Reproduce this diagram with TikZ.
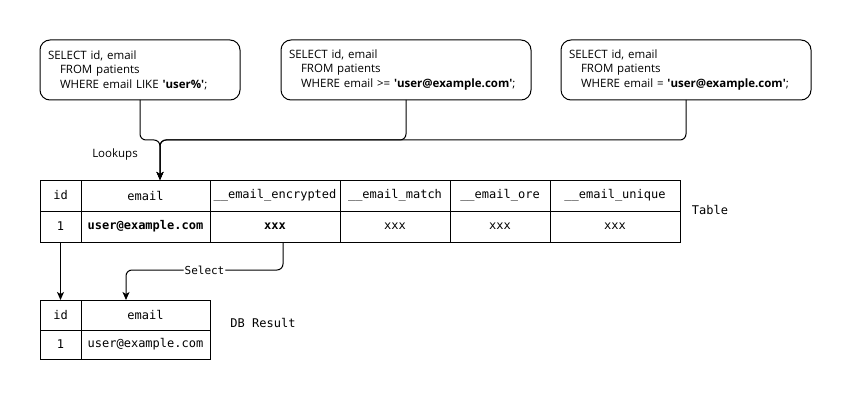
\documentclass[tikz,border=0pt]{standalone}
\usepackage{fontspec}
\setmainfont{Open Sans}
\newfontfamily\monofam{DejaVu Sans Mono}
\usetikzlibrary{arrows.meta,calc,positioning}
\newcommand\sq{\textquotesingle}

\begin{document}
\begin{tikzpicture}[x=1pt,y=-1pt,line width=1pt,
        >={Stealth[width=7pt,length=8pt,inset=2pt]},
        query/.style={draw,rounded corners=10pt,anchor=north west,outer sep=0pt,
          minimum height=60pt,inner xsep=8pt,align=left,font=\fontsize{11.5}{14.5}\selectfont},
        cell/.style={draw,anchor=north west,outer sep=0pt,inner sep=0pt,
          minimum height=31pt,font=\monofam\fontsize{12}{14}\selectfont},
        lbl/.style={font=\monofam\fontsize{12}{14}\selectfont}]
       \useasboundingbox(0,0)rectangle(851,401);
       % queries
       \node[query,text width=184pt](q1)at(40,40){SELECT id, email\\\hspace*{12pt}FROM patients\\
         \hspace*{12pt}WHERE email LIKE \textbf{\sq user\%\sq};};
       \node[query,text width=234pt](q2)at(281,40){SELECT id, email\\\hspace*{12pt}FROM patients\\
         \hspace*{12pt}WHERE email >= \textbf{\sq user@example.com\sq};};
       \node[query,text width=234pt](q3)at(561,40){SELECT id, email\\\hspace*{12pt}FROM patients\\
         \hspace*{12pt}WHERE email = \textbf{\sq user@example.com\sq};};
       % table
       \node[cell,minimum width=41pt](h1)at(40,180){id};
       \node[cell,minimum width=129pt](h2)at(h1.north east){email};
       \node[cell,minimum width=130pt](h3)at(h2.north east){\_\_email\_encrypted};
       \node[cell,minimum width=110pt](h4)at(h3.north east){\_\_email\_match};
       \node[cell,minimum width=100pt](h5)at(h4.north east){\_\_email\_ore};
       \node[cell,minimum width=130pt](h6)at(h5.north east){\_\_email\_unique};
       \node[cell,minimum width=41pt](r1)at(h1.south west){1};
       \node[cell,minimum width=129pt](r2)at(r1.north east){\bfseries user@example.com};
       \node[cell,minimum width=130pt](r3)at(r2.north east){\bfseries xxx};
       \node[cell,minimum width=110pt](r4)at(r3.north east){xxx};
       \node[cell,minimum width=100pt](r5)at(r4.north east){xxx};
       \node[cell,minimum width=130pt](r6)at(r5.north east){xxx};
       \node[lbl](table)at(710,210){Table};
       % result
       \node[cell,minimum width=41pt,minimum height=30pt](d1)at(40,300){id};
       \node[cell,minimum width=129pt,minimum height=30pt](d2)at(d1.north east){email};
       \node[cell,minimum width=41pt,minimum height=29pt](e1)at(d1.south west){1};
       \node[cell,minimum width=129pt,minimum height=29pt](e2)at(e1.north east){user@example.com};
       \node[lbl](result)at(263,323){DB Result};
       % lookups
       \coordinate(mg)at(160,140);
       \coordinate(lk)at(160,180);
       \node[font=\fontsize{11.5}{14}\selectfont](lookups)at(115,155){Lookups};
       \begin{scope}[rounded corners=6pt]
         \draw[->](q1.south)|-(mg)--(lk);
         \draw[->](q2.south)|-(mg)--(lk);
         \draw[->](q3.south)|-(mg)--(lk);
       \end{scope}
       % select
       \draw[->](r1.south)--(d1.north);
       \coordinate(s0)at(283,242);
       \coordinate(s1)at(126,270);
       \coordinate(s2)at(126,300);
       \draw[->,rounded corners=6pt](s0)|-node[pos=.75,fill=white,inner sep=1pt,
         font=\monofam\fontsize{11}{13}\selectfont]{Select}(s1)--(s2);
    \end{tikzpicture}
\end{document}
